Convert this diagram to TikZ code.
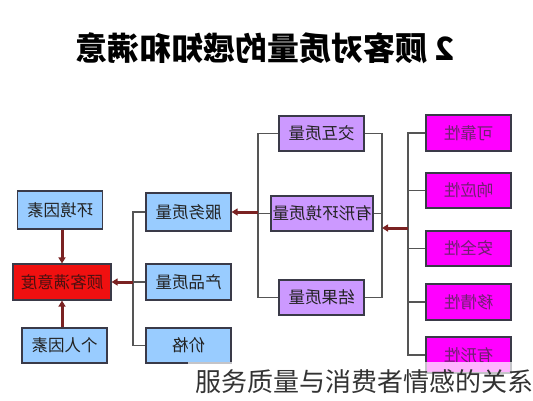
\documentclass[tikz,border=0pt]{standalone}
\usepackage{fontspec}
\usepackage{graphicx}
\setmainfont{Liberation Sans}
\newfontfamily\cjk{Noto Sans CJK SC}
\usetikzlibrary{arrows.meta}
\definecolor{bluefill}{HTML}{99CCFF}
\definecolor{purplefill}{HTML}{CC99FF}
\definecolor{magfill}{HTML}{FF00FF}
\definecolor{redfill}{HTML}{F01010}
\definecolor{boxline}{HTML}{3A3A48}
\definecolor{arrowred}{HTML}{7A2222}
\definecolor{thinline}{HTML}{555555}
\definecolor{textdark}{HTML}{222222}
\definecolor{magtext}{HTML}{702070}
\definecolor{redtext}{HTML}{4A1010}
\definecolor{wmtext}{HTML}{333333}
\newcommand{\mirtext}[1]{\scalebox{-1}[1]{#1}}
\begin{document}
\begin{tikzpicture}[x=1pt,y=-1pt,
  box/.style={draw=boxline, line width=1.2pt, inner sep=0pt, minimum width=85pt, minimum height=36pt,
    font=\cjk\fontsize{16.5}{16.5}\selectfont, text=textdark},
  bluebox/.style={box, fill=bluefill},
  purplebox/.style={box, fill=purplefill},
  magbox/.style={box, fill=magfill, text=magtext},
  redbox/.style={box, fill=redfill, text=redtext},
  thin line/.style={draw=thinline, line width=1.1pt},
  arr/.style={draw=arrowred, line width=3pt, -{Triangle[length=6pt,width=7pt]}}]
\useasboundingbox (0,0) rectangle (533,400);
\fill[white] (0,0) rectangle (533,400);
% title
\node[font=\cjk\bfseries\fontsize{32}{32}\selectfont, text=black] (title) at (265,48) {\mirtext{2 顾客对质量的感知和满意}};
% left column
\node[bluebox, minimum height=38pt] (env) at (60,210) {\mirtext{环境因素}};
\node[redbox, minimum width=98pt] (sat) at (62,282) {\mirtext{顾客满意度}};
\node[bluebox, minimum height=35pt] (per) at (64.5,345.5) {\mirtext{个人因素}};
% middle column
\node[bluebox, minimum height=38pt] (svc) at (188.5,212) {\mirtext{服务质量}};
\node[bluebox] (prd) at (188.5,282) {\mirtext{产品质量}};
\node[bluebox, minimum height=35pt] (prc) at (188.5,345.5) {\mirtext{价格}};
% purple column
\node[purplebox, minimum height=35pt] (int) at (321.5,133.5) {\mirtext{交互质量}};
\node[purplebox, minimum height=35pt, minimum width=102pt] (tan) at (322,213.5) {\mirtext{有形环境质量}};
\node[purplebox, minimum height=35pt] (res) at (321.5,297.5) {\mirtext{结果质量}};
% magenta column
\node[magbox] (m1) at (468.5,133) {\mirtext{可靠性}};
\node[magbox, minimum height=35pt] (m2) at (468.5,190.5) {\mirtext{响应性}};
\node[magbox, minimum height=35pt] (m3) at (468.5,248.5) {\mirtext{安全性}};
\node[magbox] (m4) at (468.5,302) {\mirtext{移情性}};
\node[magbox] (m5) at (468.5,355) {\mirtext{有形性}};
% bracket coordinates
\coordinate (lb) at (133,282);
\coordinate (pl) at (258,212);
\coordinate (pr) at (382,228);
\coordinate (mb) at (408,228);
% left bracket
\draw[thin line] (svc.west) -| (lb) |- (prc.west);
\draw[thin line] (prd.west) -- (lb);
\draw[arr] (lb) -- (sat.east);
% vertical arrows
\draw[arr] (env.south -| sat.north) -- (sat.north);
\draw[arr] (per.north -| sat.south) -- (sat.south);
% purple bracket left
\draw[thin line] (int.west) -| (pl) |- (res.west);
\draw[thin line] (tan.west) -- (tan.west -| pl);
\draw[arr] (pl) -- (svc.east);
% purple bracket right
\draw[thin line] (int.east) -| (pr) |- (res.east);
\draw[thin line] (tan.east) -- (tan.east -| pr);
% magenta bracket
\draw[thin line] (m1.west) -| (mb) |- (m5.west);
\draw[thin line] (m2.west) -- (m2.west -| mb);
\draw[thin line] (m3.west) -- (m3.west -| mb);
\draw[thin line] (m4.west) -- (m4.west -| mb);
\draw[arr] (mb) -- (pr);
% watermark
\fill[white, opacity=0.7] (188,362) rectangle (533,400);
\node[font=\cjk\fontsize{26}{26}\selectfont, text=wmtext] (wm) at (364,382) {服务质量与消费者情感的关系};
\end{tikzpicture}
\end{document}
